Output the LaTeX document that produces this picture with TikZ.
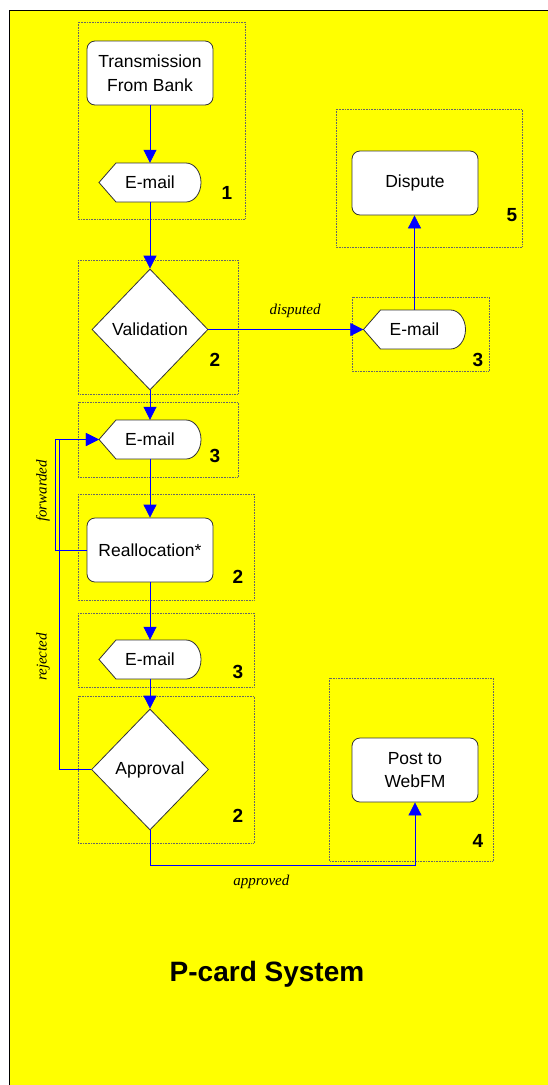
\documentclass[tikz,border=0pt]{standalone}
\usepackage{fontspec}
\setmainfont{Liberation Serif}
\setsansfont{Liberation Sans}
\usetikzlibrary{shapes.geometric,arrows.meta}

\definecolor{bgyellow}{RGB}{255,255,0}
\definecolor{flowblue}{RGB}{0,0,255}

\tikzset{
  box/.style={draw=black!80, line width=0.8pt, fill=white, rounded corners=8pt,
    minimum width=126pt, minimum height=64pt, inner sep=0pt, align=center,
    font=\sffamily\fontsize{17.5}{23.5}\selectfont},
  decision/.style={diamond, draw=black!80, line width=0.8pt, fill=white,
    minimum width=116pt, minimum height=121pt, inner sep=0pt,
    font=\sffamily\fontsize{17.5}{23.5}\selectfont},
  mailtext/.style={minimum width=102pt, minimum height=39pt, inner sep=0pt,
    font=\sffamily\fontsize{17.5}{23.5}\selectfont},
  mailline/.style={draw=black!80, line width=0.8pt, fill=white},
  group/.style={draw=black!60, densely dotted, line width=0.6pt},
  stepnum/.style={font=\sffamily\bfseries\fontsize{19}{21}\selectfont, inner sep=0pt},
  flowlabel/.style={font=\itshape\fontsize{15}{17}\selectfont, inner sep=0pt},
  flow/.style={draw=flowblue, line width=0.8pt, -{Triangle[length=13pt,width=13pt]}},
}

% E-Mail-Symbol: #1 Name, #2 x, #3 y
\newcommand{\mailbox}[3]{%
  \path[mailline] (#2-51,#3) -- (#2-34,#3-19.5) -- (#2+36,#3-19.5)
    arc[start angle=90, end angle=-90, x radius=15pt, y radius=19.5pt]
    -- (#2-34,#3+19.5) -- cycle;
  \node[mailtext] (#1) at (#2,#3) {E-mail};}

\begin{document}
\begin{tikzpicture}[x=1pt,y=-1pt]
  \useasboundingbox (0,0) rectangle (548,1085);
  % Hintergrund
  \fill[bgyellow] (9,10) rectangle (550,1087);
  \draw[black, line width=0.8pt] (9,1087) -- (9,10) -- (550,10);
  % Gruppenrahmen
  \draw[group] (78,22) rectangle (245,219);
  \draw[group] (336,109) rectangle (522,247);
  \draw[group] (78,260) rectangle (238,394);
  \draw[group] (352,297) rectangle (489,371);
  \draw[group] (78,402) rectangle (238,477);
  \draw[group] (78,494) rectangle (254,600);
  \draw[group] (78,613) rectangle (254,687);
  \draw[group] (78,696) rectangle (254,843);
  \draw[group] (329,678) rectangle (493,861);
  % Schritte
  \node[box] (trans) at (150,73) {Transmission\\From Bank};
  \mailbox{mail1}{150}{182.5}
  \node[box] (dispute) at (415,183) {Dispute};
  \node[decision] (valid) at (150,329.5) {Validation};
  \mailbox{mail4}{414.5}{329.5}
  \mailbox{mail2}{150}{439.5}
  \node[box] (realloc) at (150,550) {Reallocation*};
  \mailbox{mail3}{150}{659.5}
  \node[decision, minimum width=117pt] (approv) at (150,769.5) {Approval};
  \node[box] (post) at (415,770) {Post to\\WebFM};
  % Nummern
  \node[stepnum] (n1) at (227,192.5) {1};
  \node[stepnum] (n5) at (512,215.5) {5};
  \node[stepnum] (n2a) at (215,360) {2};
  \node[stepnum] (n3a) at (478,360) {3};
  \node[stepnum] (n3b) at (215,456) {3};
  \node[stepnum] (n2b) at (238,576.5) {2};
  \node[stepnum] (n3c) at (238,672) {3};
  \node[stepnum] (n2c) at (238,816) {2};
  \node[stepnum] (n4) at (478,840.5) {4};
  % Verbindungen
  \draw[flow] (trans.south) -- (mail1.north);
  \draw[flow] (mail1.south) -- (valid.north);
  \draw[flow] (valid.east) -- node[flowlabel, above=11pt, pos=0.56] {disputed} (mail4.west);
  \draw[flow] (mail4.north) -- (mail4.north |- dispute.south);
  \draw[flow] (valid.south) -- (mail2.north);
  \draw[flow] (mail2.south) -- (realloc.north);
  \draw[flow] (realloc.south) -- (mail3.north);
  \draw[flow] (mail3.south) -- (approv.north);
  \draw[flow] (approv.south) -- ++(0,34.5)
    -| node[flowlabel, pos=0.21, below=10pt] {approved} (post.south);
  \draw[flow] (realloc.west) -- ++(-31,0) |- (mail2.west);
  \draw[flow] (approv.west) -- ++(-32,0) |- (mail2.west);
  % Beschriftungen links
  \node[flowlabel, rotate=90] (fwd) at (43,491) {forwarded};
  \node[flowlabel, rotate=90] (rej) at (43,657) {rejected};
  % Titel
  \node[font=\sffamily\bfseries\fontsize{28}{30}\selectfont] (title) at (267,974) {P-card System};
\end{tikzpicture}
\end{document}
